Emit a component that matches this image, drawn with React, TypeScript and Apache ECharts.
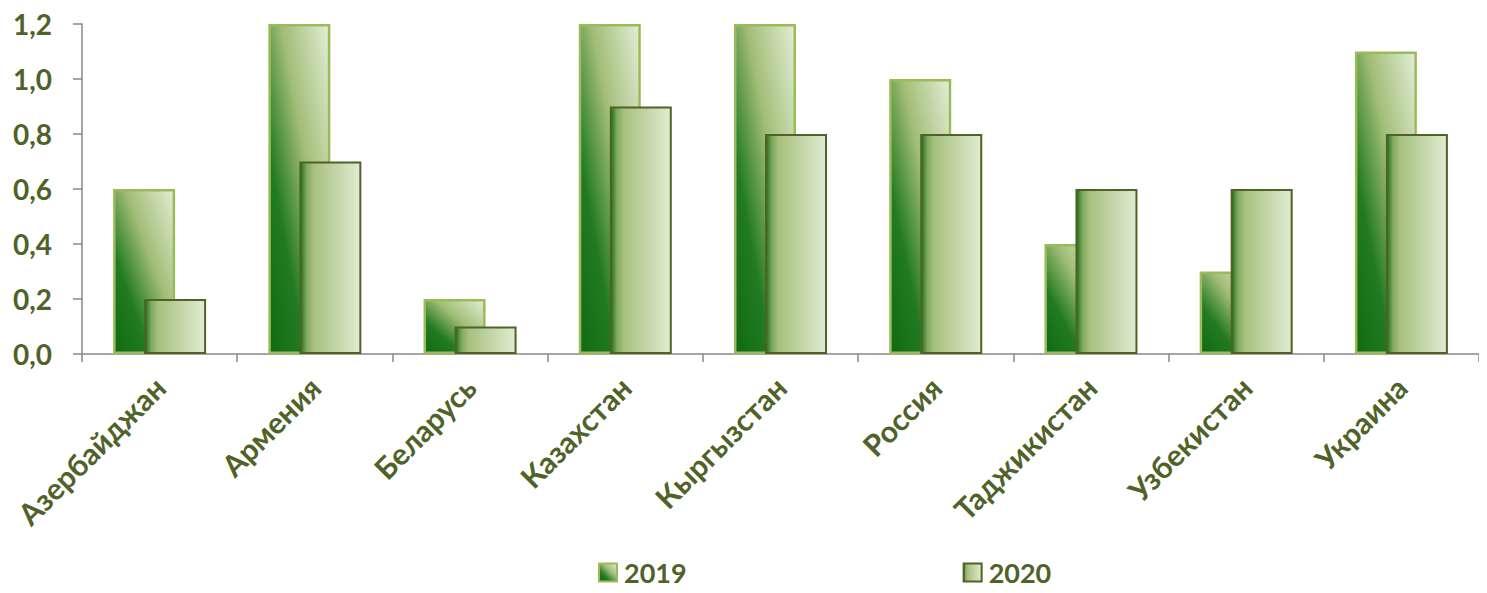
import React, { useEffect, useRef } from "react";
import * as echarts from "echarts";

const categories = [
  "Азербайджан",
  "Армения",
  "Беларусь",
  "Казахстан",
  "Кыргызстан",
  "Россия",
  "Таджикистан",
  "Узбекистан",
  "Украина",
];
const values2019 = [0.6, 1.2, 0.2, 1.2, 1.2, 1.0, 0.4, 0.3, 1.1];
const values2020 = [0.2, 0.7, 0.1, 0.9, 0.8, 0.8, 0.6, 0.6, 0.8];
const seriesNames = ["2019", "2020"];

const TEXT = "#4F6228";
const FONT = "Lato";

export default function App() {
  const ref = useRef<HTMLDivElement>(null);
  useEffect(() => {
    if (!ref.current) return;
    const chart = echarts.init(ref.current, undefined, { renderer: "svg" });
    const grad2019 = new echarts.graphic.LinearGradient(0, 1, 1, 0, [
      { offset: 0, color: "#0F6A12" },
      { offset: 0.3, color: "#227B22" },
      { offset: 0.6, color: "#A2BD77" },
      { offset: 1, color: "#E2EED6" },
    ]);
    const grad2020 = new echarts.graphic.LinearGradient(0, 0, 1, 0, [
      { offset: 0, color: "#1C6D1A" },
      { offset: 0.1, color: "#7FA85E" },
      { offset: 0.22, color: "#A7C07E" },
      { offset: 1, color: "#E0ECD3" },
    ]);
    chart.setOption({
      animation: false,
      grid: { left: 74, top: 16, bottom: 239, right: -22, containLabel: false },
      legend: {
        data: seriesNames,
        left: 590,
        top: 551,
        padding: 0,
        itemWidth: 18,
        itemHeight: 18,
        itemGap: 276,
        icon: "rect",
        textStyle: { color: TEXT, fontFamily: FONT, fontWeight: "bold", fontSize: 27, padding: [0, 0, 0, 2] },
      },
      xAxis: {
        type: "category",
        data: categories,
        axisLine: { lineStyle: { color: "#898989", width: 1.5 } },
        axisTick: { show: true, length: 8, interval: 0, lineStyle: { color: "#898989", width: 1.5 } },
        axisLabel: {
          rotate: 45,
          interval: 0,
          margin: 28,
          color: TEXT,
          fontFamily: FONT,
          fontWeight: "bold",
          fontSize: 30,
        },
      },
      yAxis: {
        type: "value",
        min: 0,
        max: 1.2,
        interval: 0.2,
        splitLine: { show: false },
        axisLine: { show: true, lineStyle: { color: "#898989", width: 1.5 } },
        axisTick: { show: true, length: 9, lineStyle: { color: "#898989", width: 1.5 } },
        axisLabel: {
          margin: 30,
          color: TEXT,
          fontFamily: FONT,
          fontWeight: "bold",
          fontSize: 28,
          formatter: (v: number) => v.toFixed(1).replace(".", ","),
        },
      },
      series: [
        {
          name: seriesNames[0],
          type: "bar",
          data: values2019,
          barWidth: 62,
          barGap: "-50%",
          itemStyle: { color: grad2019, borderColor: "#9BBB59", borderWidth: 2.5 },
        },
        {
          name: seriesNames[1],
          type: "bar",
          data: values2020,
          barWidth: 62,
          itemStyle: { color: grad2020, borderColor: "#4F6228", borderWidth: 2 },
        },
      ],
    });
    return () => chart.dispose();
  }, []);
  return <div ref={ref} style={{ width: 1471, height: 585, marginBottom: -8 }} />;
}
